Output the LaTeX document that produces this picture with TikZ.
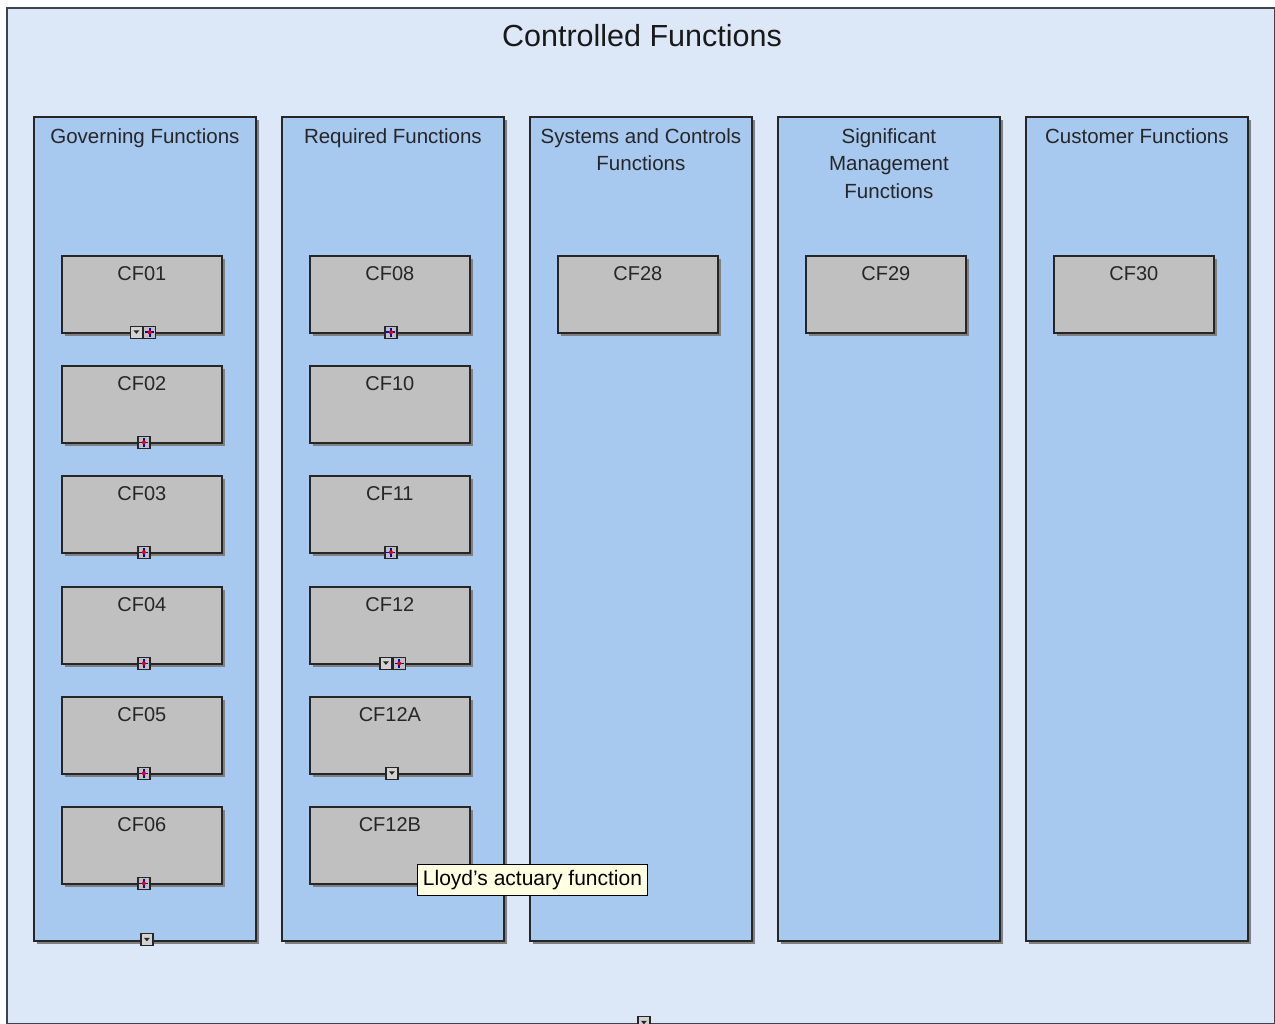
\documentclass[tikz,border=0pt]{standalone}
\usepackage{fontspec}
\setmainfont{Liberation Sans}
\usetikzlibrary{positioning, shadows}
\definecolor{PaneBlue}{HTML}{DCE8F8}
\definecolor{ColBlue}{HTML}{A7C9F0}
\definecolor{BoxGray}{HTML}{C0C0C0}
\definecolor{EdgeGray}{HTML}{3C4450}
\definecolor{TipYellow}{HTML}{FFFFE1}

\begin{document}
\begin{tikzpicture}[x=1pt, y=-1pt,
  pane/.style={draw=EdgeGray, line width=1.8pt, fill=PaneBlue, anchor=north west,
               minimum width=1268pt, minimum height=1016pt, inner sep=0pt},
  shade/.style={drop shadow={shadow xshift=3.5pt, shadow yshift=-3.5pt, fill=black!50, opacity=1}},
  col/.style={draw=black!85, line width=1.8pt, fill=ColBlue, anchor=north west, shade,
               minimum width=222pt, minimum height=824pt, inner sep=0pt},
  head/.style={font=\fontsize{20.5}{27.5}\selectfont, align=center, text=black!85, inner sep=0pt},
  lbl/.style={font=\fontsize{20}{24}\selectfont, anchor=north, yshift=-11pt, inner sep=0pt, text=black!85},
  cf/.style={draw=black!85, line width=1.8pt, fill=BoxGray, anchor=north west, shade,
             minimum width=160pt, minimum height=77pt, inner sep=0pt, label={[lbl]north:#1}},
  plusbtn/.style={draw=black!85, line width=1.3pt, fill=BoxGray, minimum size=12pt, inner sep=0pt,
    path picture={\draw[blue!85!black, line width=1.6pt]
        ([yshift=-1.5pt]path picture bounding box.north) -- ([yshift=1.5pt]path picture bounding box.south)
        ([xshift=1.5pt]path picture bounding box.west) -- ([xshift=-1.5pt]path picture bounding box.east);
      \fill[red!90!black] (path picture bounding box.center) circle (2pt);}},
  tglbtn/.style={draw=black!85, line width=1.3pt, fill=BoxGray!70!white, minimum size=12pt, inner sep=0pt,
    path picture={\fill[black!85] (path picture bounding box.center) ++(-3pt,2pt)
        -- ++(6pt,0pt) -- ++(-3pt,-3.5pt) -- cycle;}},
  tip/.style={draw=black, line width=1pt, fill=TipYellow, anchor=north west,
              minimum width=230pt, minimum height=31pt, inner xsep=2pt,
              font=\fontsize{21}{24}\selectfont},
]
  \useasboundingbox (0,0) rectangle (1275,1024);

  \node[pane] (pane) at (6,7) {};
  \node[font=\fontsize{30.5}{34}\selectfont, text=black!90, anchor=north, inner sep=0pt]
    (title) at (642,24) {Controlled Functions};
  \node[tglbtn] (panet) at ([xshift=3pt, yshift=2pt]pane.south) {};

  % columns
  \node[col] (gov) at (33,116) {};
  \node[col] (req) at (281,116) {};
  \node[col] (sys) at (529,116) {};
  \node[col] (sig) at (777,116) {};
  \node[col] (cust) at (1025,116) {};
  \node[head, below=12pt of gov.north] (govh) {Governing Functions};
  \node[head, below=12pt of req.north] (reqh) {Required Functions};
  \node[head, below=12pt of sys.north] (sysh) {Systems and Controls\\Functions};
  \node[head, below=12pt of sig.north] (sigh) {Significant\\Management\\Functions};
  \node[head, below=12pt of cust.north] (custh) {Customer Functions};
  \node[tglbtn] (govt) at ([xshift=2pt, yshift=2pt]gov.south) {};

  % governing functions
  \node[cf=CF01] (cf01) at (61,255) {};
  \node[cf=CF02] (cf02) at (61,365) {};
  \node[cf=CF03] (cf03) at (61,475) {};
  \node[cf=CF04] (cf04) at (61,586) {};
  \node[cf=CF05] (cf05) at (61,696) {};
  \node[cf=CF06] (cf06) at (61,806) {};
  \node[tglbtn] (cf01t) at ([xshift=-5.5pt, yshift=1.5pt]cf01.south) {};
  \node[plusbtn, right=0pt of cf01t] (cf01p) {};
  \node[plusbtn] (cf02p) at ([xshift=2pt, yshift=1.5pt]cf02.south) {};
  \node[plusbtn] (cf03p) at ([xshift=2pt, yshift=1.5pt]cf03.south) {};
  \node[plusbtn] (cf04p) at ([xshift=2pt, yshift=1.5pt]cf04.south) {};
  \node[plusbtn] (cf05p) at ([xshift=2pt, yshift=1.5pt]cf05.south) {};
  \node[plusbtn] (cf06p) at ([xshift=2pt, yshift=1.5pt]cf06.south) {};

  % required functions
  \node[cf=CF08] (cf08) at (309,255) {};
  \node[cf=CF10] (cf10) at (309,365) {};
  \node[cf=CF11] (cf11) at (309,475) {};
  \node[cf=CF12] (cf12) at (309,586) {};
  \node[cf=CF12A] (cf12a) at (309,696) {};
  \node[cf=CF12B] (cf12b) at (309,806) {};
  \node[plusbtn] (cf08p) at ([xshift=1pt, yshift=1.5pt]cf08.south) {};
  \node[plusbtn] (cf11p) at ([xshift=1pt, yshift=1.5pt]cf11.south) {};
  \node[tglbtn] (cf12t) at ([xshift=-4pt, yshift=1.5pt]cf12.south) {};
  \node[plusbtn, right=0pt of cf12t] (cf12p) {};
  \node[tglbtn] (cf12at) at ([xshift=2pt, yshift=1.5pt]cf12a.south) {};

  % other columns
  \node[cf=CF28] (cf28) at (557,255) {};
  \node[cf=CF29] (cf29) at (805,255) {};
  \node[cf=CF30] (cf30) at (1053,255) {};

  \node[tip] (tipbox) at (417,864) {Lloyd's actuary function};
\end{tikzpicture}
\end{document}
